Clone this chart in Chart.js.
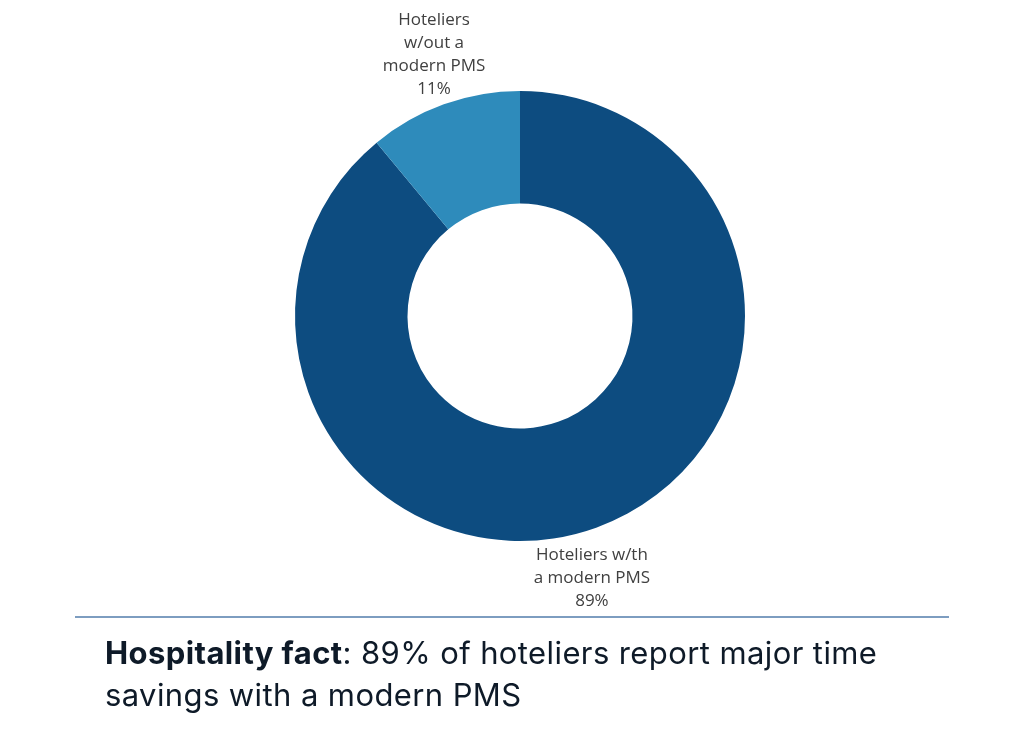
<!DOCTYPE html>
<html>
<head>
<meta charset="utf-8">
<script src="https://cdn.jsdelivr.net/npm/chart.js@4.4.1/dist/chart.umd.min.js"></script>
<style>
  html, body { margin: 0; padding: 0; background: #fff; }
  #wrap { position: relative; width: 1024px; height: 746px; overflow: hidden; }
  #chartBox { position: absolute; left: 0; top: 0; width: 1024px; height: 746px; }
  #rule { position: absolute; left: 75px; top: 616px; width: 874px; height: 2px; background: #7d9dc0; }
  #fact { position: absolute; left: 105px; top: 632px; width: 900px; font-family: Inter, "Noto Sans", sans-serif; font-size: 31px; letter-spacing: 0.4px; line-height: 42px; color: #0e1a28; }
  #fact b { font-weight: 700; }
</style>
</head>
<body>
<div id="wrap">
  <div id="chartBox"><canvas id="pmsChart"></canvas></div>
  <div id="rule"></div>
  <div id="fact"><b>Hospitality fact</b>: 89% of hoteliers report major time<br>savings with a modern PMS</div>
</div>
<script>
const categories = [['Hoteliers w/th', 'a modern PMS'], ['Hoteliers', 'w/out a', 'modern PMS']];
const shares = [89, 11];
const sliceColors = ['#0d4c80', '#2e8bbb'];

const outsideLabels = {
  id: 'outsideLabels',
  afterDatasetsDraw(chart) {
    const ctx = chart.ctx;
    const meta = chart.getDatasetMeta(0);
    ctx.save();
    ctx.font = '17px "Open Sans", sans-serif';
    ctx.fillStyle = '#404040';
    ctx.textAlign = 'center';
    ctx.textBaseline = 'top';
    const lineH = 23;
    meta.data.forEach((arc, i) => {
      const mid = (arc.startAngle + arc.endAngle) / 2;
      const dx = Math.cos(mid), dy = Math.sin(mid);
      const r = arc.outerRadius + 8;
      const px = arc.x + dx * r - 7;
      const py = arc.y + dy * r + (dy < 0 ? 7 : 11);
      const lines = categories[i].concat([shares[i] + '%']);
      const h = lines.length * lineH;
      const top = dy < 0 ? py - h : py;
      lines.forEach((t, k) => ctx.fillText(t, px, top + k * lineH));
    });
    ctx.restore();
  }
};

new Chart(document.getElementById('pmsChart').getContext('2d'), {
  type: 'doughnut',
  data: {
    labels: categories.map(c => c.join(' ')),
    datasets: [{
      data: shares,
      backgroundColor: sliceColors,
      borderWidth: 0
    }]
  },
  options: {
    responsive: true,
    maintainAspectRatio: false,
    animation: false,
    cutout: '50%',
    layout: { padding: { left: 295, right: 279, top: 91, bottom: 205 } },
    plugins: {
      legend: { display: false },
      tooltip: { enabled: false },
      title: { display: false }
    }
  },
  plugins: [outsideLabels]
});
</script>
</body>
</html>
